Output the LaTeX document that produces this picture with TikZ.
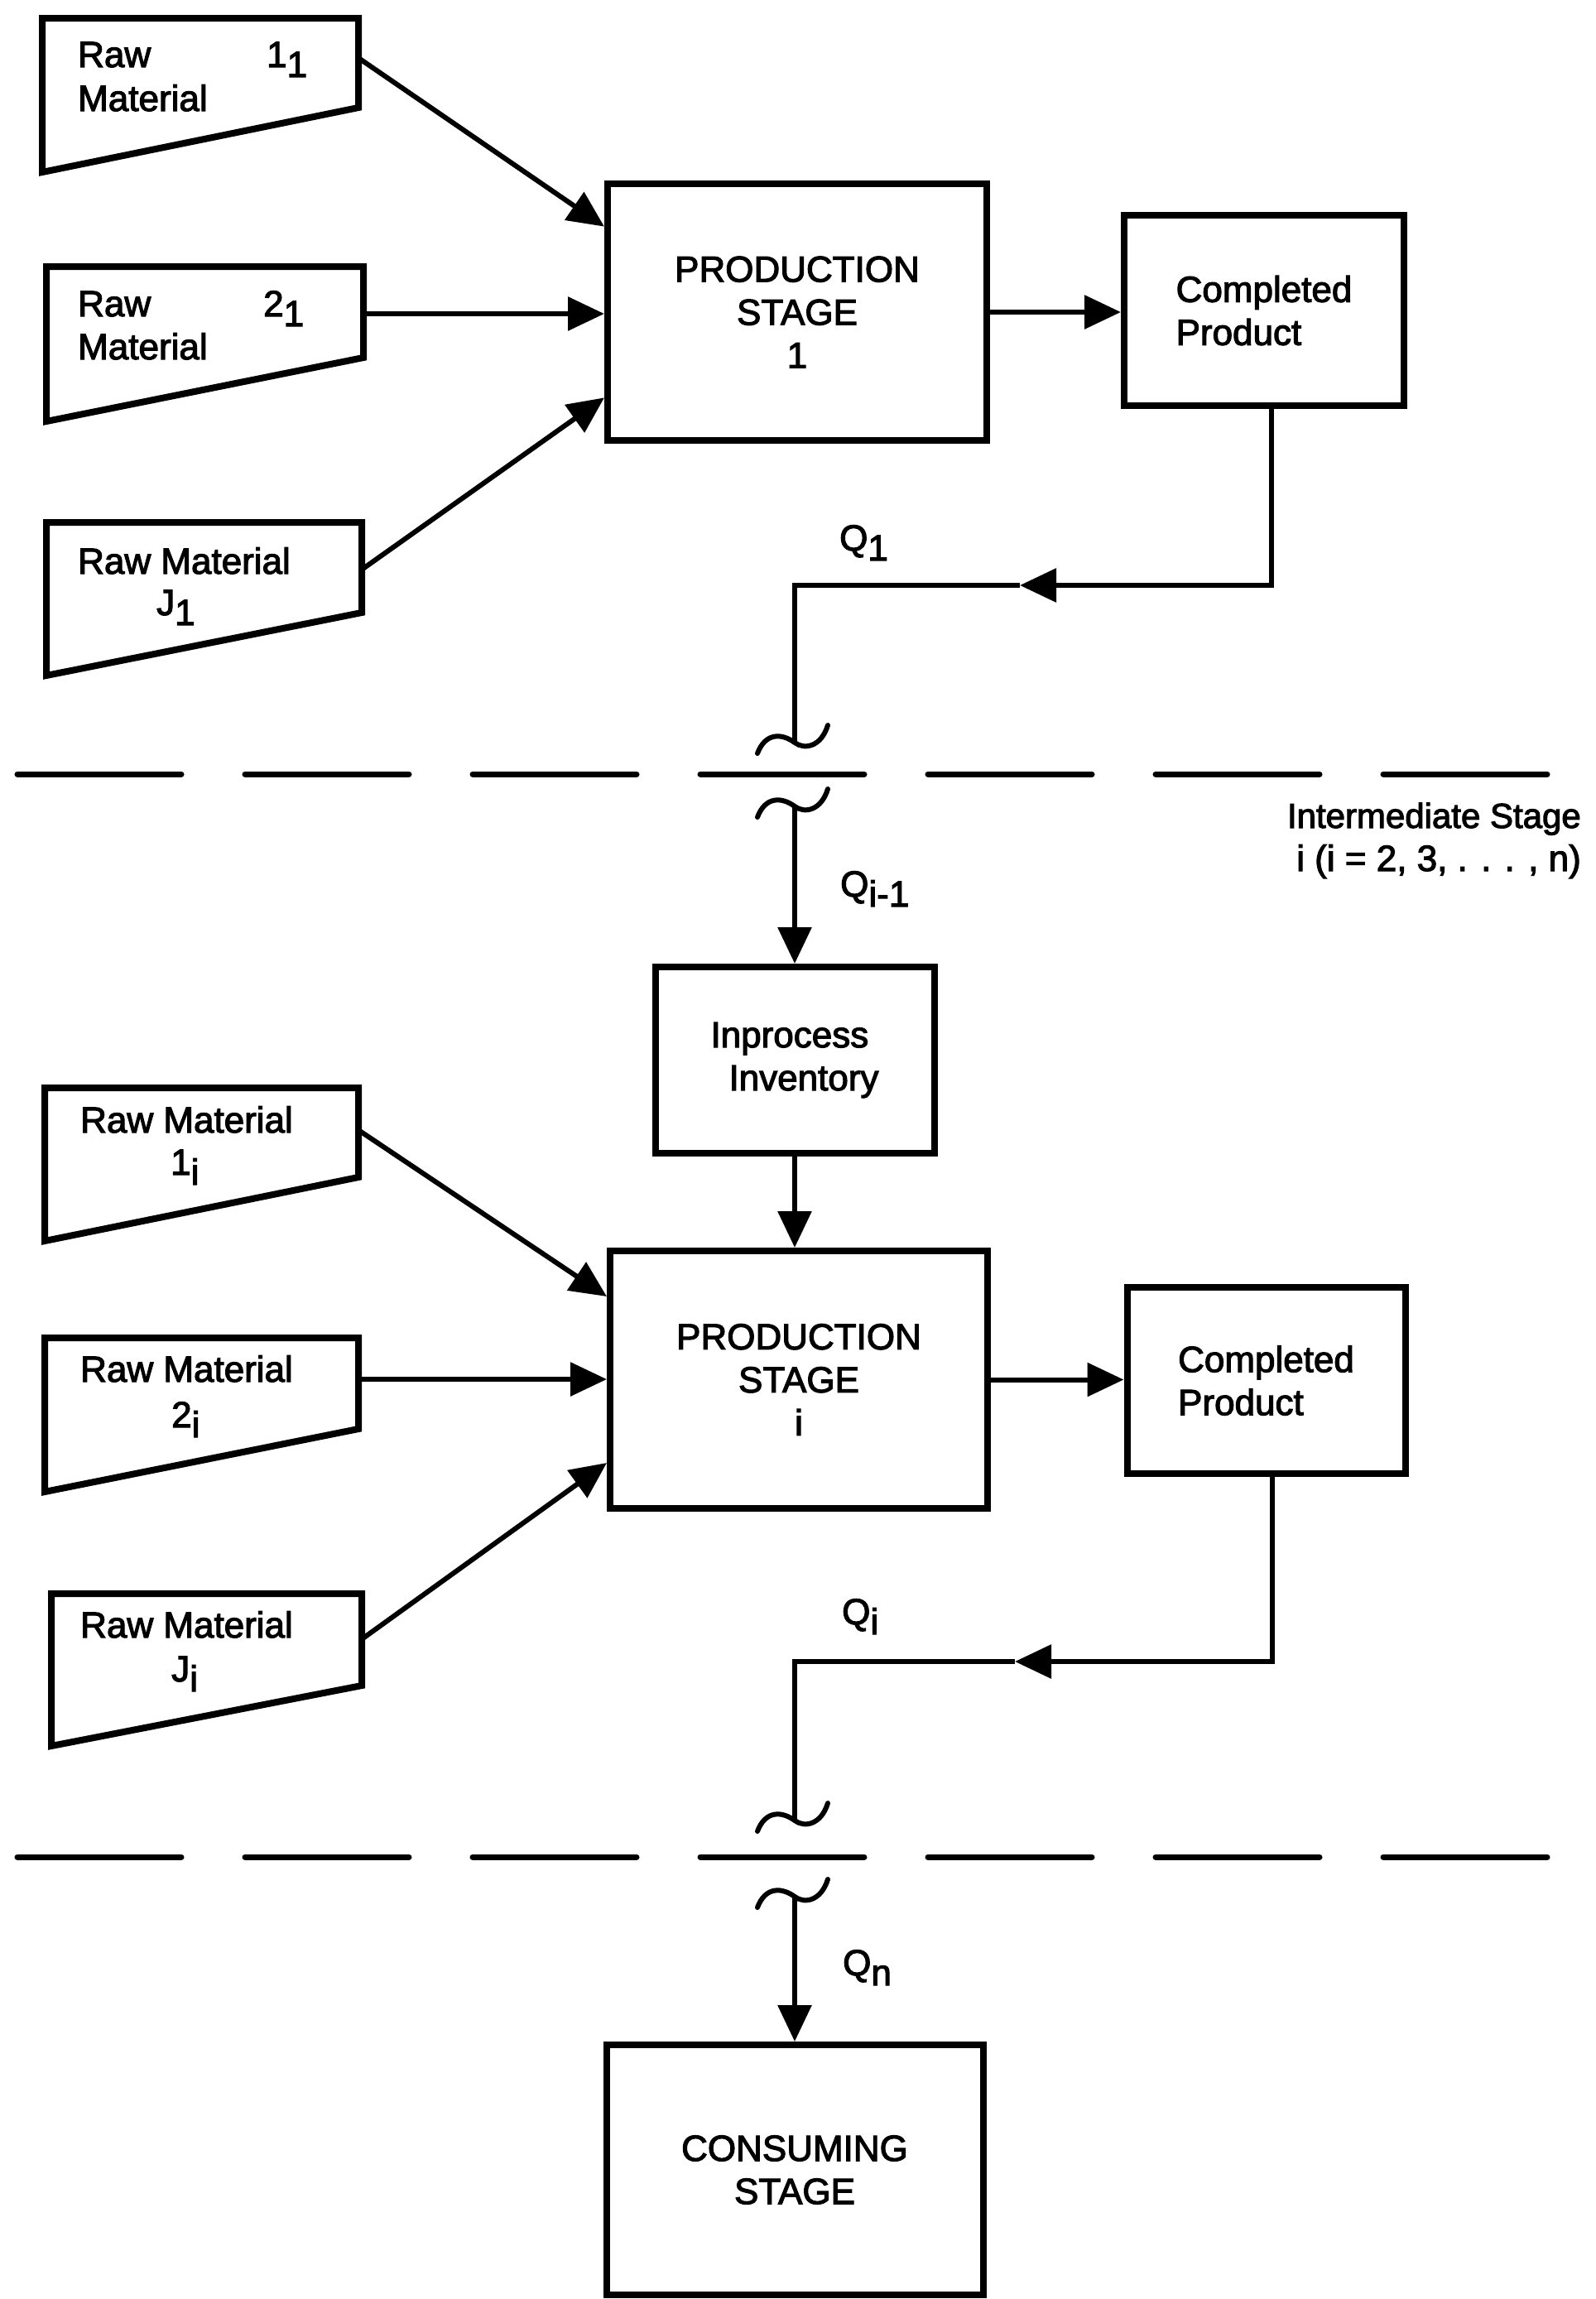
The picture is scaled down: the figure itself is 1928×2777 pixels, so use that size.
\documentclass[tikz,border=0pt]{standalone}
\usepackage{fontspec}
\setmainfont{Liberation Sans}[RawFeature={embolden=2.6}]
\usetikzlibrary{arrows.meta,calc}
\newcommand\lo[1]{\raisebox{-12pt}{#1}}
\newcommand\bigtxt{\fontsize{44}{52}\selectfont}
\begin{document}
\begin{tikzpicture}[x=1pt,y=-1pt,
  box/.style={draw,line width=8pt,inner sep=0pt,font=\bigtxt,align=center},
  rmbox/.style={draw,line width=8pt,line join=miter},
  txt/.style={inner sep=0pt,font=\bigtxt},
  conn/.style={line width=6pt},
  arr/.style={-{Triangle[length=44pt,width=40pt]}},
  dashline/.style={line width=7pt,line cap=round,dash pattern=on 198pt off 77pt},
  brk/.pic={\draw[line width=6pt,line cap=round] (-45,12) .. controls (-35,-14) and (-15,-12) .. (0,-1) .. controls (12,8) and (32,4) .. (40,-22);}
]
\useasboundingbox (0,0) rectangle (1928,2777);

% raw material boxes
\draw[rmbox] (51,22) -- (433,22) -- (433,130) -- (51,208) -- cycle;
\draw[rmbox] (56,322) -- (439,322) -- (439,432) -- (56,509) -- cycle;
\draw[rmbox] (56,631) -- (437,631) -- (437,740) -- (56,816) -- cycle;
\draw[rmbox] (54,1314) -- (433,1314) -- (433,1422) -- (54,1499) -- cycle;
\draw[rmbox] (54,1616) -- (433,1616) -- (433,1726) -- (54,1802) -- cycle;
\draw[rmbox] (62,1925) -- (437,1925) -- (437,2036) -- (62,2109) -- cycle;

\coordinate (s11) at (433,70);
\coordinate (s21) at (439,379);
\coordinate (sJ1) at (437,688);
\coordinate (s1i) at (433,1365);
\coordinate (s2i) at (433,1666);
\coordinate (sJi) at (437,1980);

\node[txt,anchor=base west] (t11a) at (94,81) {Raw};
\node[txt,anchor=base west] (t11b) at (94,134) {Material};
\node[txt,anchor=base west] (t11c) at (322,81) {1\lo{1}};
\node[txt,anchor=base west] (t21a) at (94,382) {Raw};
\node[txt,anchor=base west] (t21b) at (94,434) {Material};
\node[txt,anchor=base west] (t21c) at (318,382) {2\lo{1}};
\node[txt,anchor=base west] (tJ1a) at (94,693) {Raw Material};
\node[txt,anchor=base west] (tJ1b) at (189,743) {J\lo{1}};
\node[txt,anchor=base west] (t1ia) at (97,1368) {Raw Material};
\node[txt,anchor=base west] (t1ib) at (206,1419) {1\lo{i}};
\node[txt,anchor=base west] (t2ia) at (97,1669) {Raw Material};
\node[txt,anchor=base west] (t2ib) at (207,1724) {2\lo{i}};
\node[txt,anchor=base west] (tJia) at (97,1978) {Raw Material};
\node[txt,anchor=base west] (tJib) at (207,2031) {J\lo{i}};

% main boxes
\node[box,minimum width=458pt,minimum height=310pt] (PS1) at (963,377) {PRODUCTION\\STAGE\\1};
\node[box,minimum width=338pt,minimum height=230pt,align=left] (CP1) at (1527,375) {Completed\\Product};
\node[box,minimum width=337pt,minimum height=225pt,align=left] (Inp) at (960,1280.5) {Inprocess\\\hspace*{22pt}Inventory};
\node[box,minimum width=456pt,minimum height=311pt] (PSi) at (965,1666.5) {PRODUCTION\\STAGE\\i};
\node[box,minimum width=336pt,minimum height=225pt,align=left] (CPi) at (1529.5,1667.5) {Completed\\Product};
\node[box,minimum width=455pt,minimum height=302pt] (CS) at (960,2621) {CONSUMING\\STAGE};

% inputs
\draw[conn,arr] (s11) -- ($(PS1.west)!0.65!(PS1.north west)$);
\draw[conn,arr] (s21) -- (s21 -| PS1.west);
\draw[conn,arr] (sJ1) -- ($(PS1.west)!0.65!(PS1.south west)$);
\draw[conn,arr] (s1i) -- ($(PSi.west)!0.63!(PSi.north west)$);
\draw[conn,arr] (s2i) -- (s2i -| PSi.west);
\draw[conn,arr] (sJi) -- ($(PSi.west)!0.63!(PSi.south west)$);

\draw[conn,arr] (PS1.east) -- (PS1.east -| CP1.west);
\draw[conn,arr] (PSi.east) -- (PSi.east -| CPi.west);

% feedback 1
\coordinate (a1) at (1232,707);
\coordinate (c1) at (960,707);
\coordinate (j1) at (960,898);
\coordinate (k1) at (960,975);
\draw[conn,arr] ([xshift=9pt]CP1.south) |- (a1);
\draw[conn] (a1) -- (c1) -- (j1);
\pic at (j1) {brk};
\pic at (k1) {brk};
\draw[dashline] (21,935) -- (1870,935);
\draw[conn,arr] (k1) -- (Inp.north);
\draw[conn,arr] (Inp.south) -- (Inp.south |- PSi.north);

% feedback 2
\coordinate (a2) at (1226,2007);
\coordinate (c2) at (960,2007);
\coordinate (j2) at (960,2200);
\coordinate (k2) at (960,2292);
\draw[conn,arr] ([xshift=7.5pt]CPi.south) |- (a2);
\draw[conn] (a2) -- (c2) -- (j2);
\pic at (j2) {brk};
\pic at (k2) {brk};
\draw[dashline] (21,2243) -- (1870,2243);
\draw[conn,arr] (k2) -- (CS.north);

% labels
\node[txt,anchor=base west] (q1) at (1014,665) {Q\lo{1}};
\node[txt,anchor=base west] (qim) at (1015,1083) {Q\lo{i-1}};
\node[txt,anchor=base west] (qi) at (1017,1962) {Q\lo{i}};
\node[txt,anchor=base west] (qn) at (1018,2386) {Q\lo{n}};
\node[txt,anchor=base east,font=\fontsize{42}{50}\selectfont] (int1) at (1910,1000) {Intermediate Stage};
\node[txt,anchor=base east] (int2) at (1910,1052) {i (i = 2, 3, . . . , n)};
\end{tikzpicture}
\end{document}
